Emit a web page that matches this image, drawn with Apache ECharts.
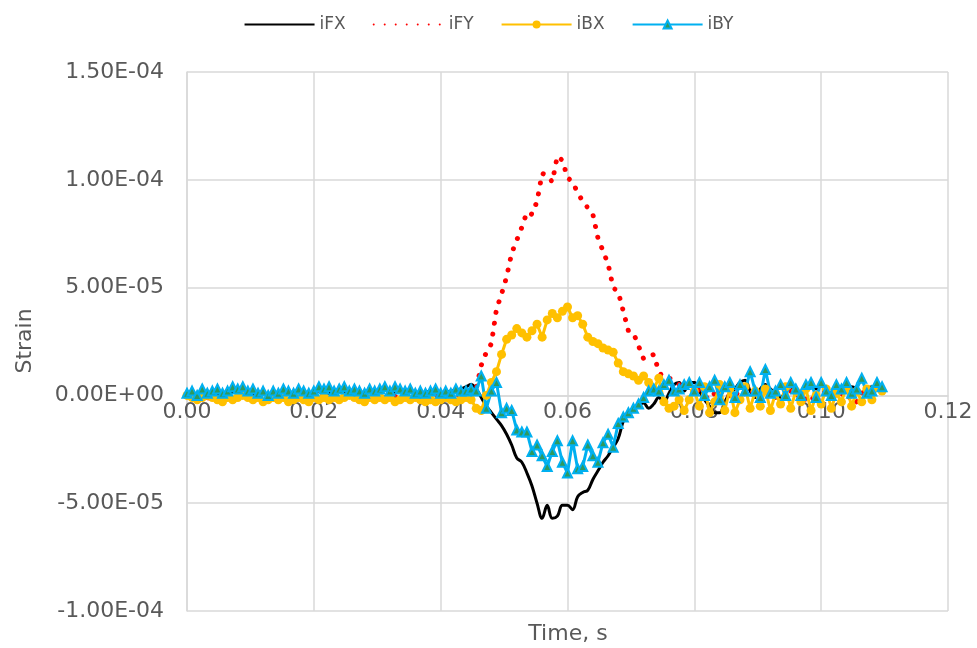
<!DOCTYPE html>
<html>
<head>
<meta charset="utf-8">
<script src="https://cdn.jsdelivr.net/npm/echarts@6/dist/echarts.min.js"></script>
<style>
html,body{margin:0;padding:0;background:#fff;}
#chart{width:977px;height:648px;}
</style>
</head>
<body>
<div id="chart"></div>
<script>
// Sample spacing of the recorded signals (milliseconds)
const timeStepMs = 0.8;
// Strain values in microstrain (x1e-6)
const iFX = [
  0,0.5,1,0.5,1,1.5,1,0.5,1,1.5,
  2,1.5,1,0.5,0,0.5,1,0.5,0,0.5,
  1,1.5,1,0.5,1,1.5,2,1.5,1,1.5,
  2,1.5,1,0.5,1,1.5,2,1.5,2,2.5,
  2,1.5,2,2.5,2,1.5,1,1.5,2,1.5,
  1,1.5,2,2.5,3,4,5,3,-1,-5,
  -8,-11,-14,-18,-23,-29,-31,-36,-42,-50,
  -57,-51,-57,-56,-51,-51,-53,-47,-45,-44,
  -39,-35,-31,-28,-24,-20,-12,-8,-6,-4.5,
  -3.5,-6,-4,-1,-3,1,5,6,2,6,
  6,2,-2,-5,-8,-8,-3,1,3,6,
  7,2,-1,3,5,3,1,-1,2,4,
  2,0,2,4,3,5,3,1,3,4,
  2,4,3,1,3,4,3,3
];
const iFY = [
  0,-0.5,-1,0,-1,-2,-1,0,-1,-0.5,
  0,-1,-0.5,0,-1,-2,-1,0,-0.5,-1,
  -2,-1,0,-0.5,-1,-1,0,-0.5,-1,-0.5,
  0,-1,-2,-1,0,-0.5,0,-1,-2,-1,
  0,-0.5,-1,-0.5,0,-1,-2,-1,-0.5,0,
  -1,-0.5,0,0,0,0.5,1,3,14,20,
  24,40,47,55,66,72,78,85,84,90,
  103,102,99,111,109,101,99,94,90,87,
  84,73,67,61,50,48,39,30,29,23,
  17,18,19,11,8,8,7,5,6,5,
  4,2,0,-2,1,3,-1,0,2,-1,
  1,3,0,-2,2,1,-1,-3,0,2,
  -1,1,-2,0,-4,1,2,-1,0,1,
  -2,0,-3,1,2,0,1,2
];
const iBX = [
  0,-1,-2,-1,0,-1,-2,-3,-1,-2,
  -1,0,-1,-2,-1,-3,-2,-1,-2,-1,
  -3,-2,-1,-2,-3,-1,-2,-1,-2,-1,
  -2,-1,0,-1,-2,-3,-1,-2,-1,-2,
  -1,-3,-2,-1,-2,-1,-2,-3,-2,-3,
  -2,-1,-2,-3,-2,-1,-2,-6,-7,0,
  6,11,19,26,28,31,29,27,30,33,
  27,35,38,36,39,41,36,37,33,27,
  25,24,22,21,20,15,11,10,9,7,
  9,6,3,8,-3,-6,-5,-2,-7,-2,
  2,-5,4,-8,-3,5,-7,3,-8,-2,
  4,-6,2,-5,3,-7,1,-4,4,-6,
  2,-3,3,-7,0,-4,3,-6,1,-3,
  4,-5,2,-3,3,-2,4,2
];
const iBY = [
  1,2,0,3,1,2,3,1,2,4,
  3,4,2,3,1,2,0,2,1,3,
  2,1,3,2,1,2,4,3,4,2,
  3,4,2,3,2,1,3,2,3,4,
  2,4,3,2,3,1,2,1,2,3,
  1,2,1,3,2,2,3,2,9,-6,
  2,6,-8,-6,-7,-16,-17,-17,-26,-23,
  -28,-33,-26,-21,-31,-36,-21,-34,-33,-23,
  -28,-31,-22,-18,-24,-13,-10,-8,-6,-4,
  -1,2,3,2,5,7,2,3,5,6,
  2,6,0,4,7,-2,4,6,-1,5,
  2,11,2,-1,12,1,2,5,0,6,
  3,0,5,6,-1,6,2,0,5,3,
  6,1,3,8,1,2,6,4
];
const seriesNames = ['iFX','iFY','iBX','iBY'];
// axis ranges (ms and microstrain)
const xRange = {min:0, max:120, step:20};
const yRange = {min:-100, max:150, step:50};

const FONT = 'DejaVu Sans';
const TXT = '#595959';
const GRID = '#d9d9d9';
const GRID_TOP = 72, GRID_BOTTOM = 37, CH = 648;

function pairs(arr){ return arr.map((v,i)=>[i*timeStepMs, v]); }
function sci(v){
  const s = (v*1e-6).toExponential(2);
  const parts = s.split('e');
  const sign = parts[1][0]==='-' ? '-' : '+';
  const d = parts[1].replace(/[+-]/,'').padStart(2,'0');
  return parts[0] + 'E' + sign + d;
}
// place the x axis on the y=0 line
const plotH = CH - GRID_TOP - GRID_BOTTOM;
const zeroOffset = -plotH * (0 - yRange.min) / (yRange.max - yRange.min);

const chart = echarts.init(document.getElementById('chart'));
chart.setOption({
  animation:false,
  backgroundColor:'#fff',
  grid:{left:187,right:29,top:GRID_TOP,bottom:GRID_BOTTOM,containLabel:false},
  legend:{
    top:11,left:'center',
    itemWidth:70,itemHeight:10,itemGap:27,
    textStyle:{fontFamily:FONT,fontSize:17,color:TXT},
    data:[
      {name:'iFX',itemStyle:{opacity:0}},
      {name:'iFY',itemStyle:{opacity:0}},
      {name:'iBX'},
      {name:'iBY'}
    ]
  },
  xAxis:{
    type:'value',min:xRange.min,max:xRange.max,interval:xRange.step,
    position:'bottom',offset:zeroOffset,
    axisLine:{onZero:false,lineStyle:{color:GRID,width:1.5}},
    axisTick:{show:false},
    splitLine:{show:true,lineStyle:{color:GRID,width:1.5}},
    axisLabel:{fontFamily:FONT,fontSize:22,color:TXT,margin:6,
      formatter:v=>(v/1000).toFixed(2)}
  },
  yAxis:{
    type:'value',min:yRange.min,max:yRange.max,interval:yRange.step,
    axisLine:{show:true,onZero:false,lineStyle:{color:GRID,width:1.5}},
    axisTick:{show:false},
    splitLine:{show:true,lineStyle:{color:GRID,width:1.5}},
    axisLabel:{fontFamily:FONT,fontSize:22,color:TXT,margin:23,formatter:sci}
  },
  graphic:[
    {type:'text',x:568,y:634,style:{text:'Time, s',font:'22px "DejaVu Sans"',fill:TXT,textAlign:'center',textVerticalAlign:'middle'}},
    {type:'text',x:25,y:341,rotation:Math.PI/2,
      style:{text:'Strain',font:'22px "DejaVu Sans"',fill:TXT,textAlign:'center',textVerticalAlign:'middle'}}
  ],
  series:[
    {name:'iFX',type:'line',data:pairs(iFX),symbol:'none',smooth:0.4,
      lineStyle:{color:'#000000',width:3},itemStyle:{color:'#000000'}},
    {name:'iFY',type:'line',data:pairs(iFY),symbol:'none',
      lineStyle:{color:'#FF0000',width:5,type:[0.01,11],cap:'round'},itemStyle:{color:'#FF0000'}},
    {name:'iBX',type:'line',data:pairs(iBX),symbol:'circle',symbolSize:9,showSymbol:true,
      lineStyle:{color:'#FFC000',width:3},itemStyle:{color:'#FFC000'}},
    {name:'iBY',type:'line',data:pairs(iBY),symbol:'triangle',symbolSize:9,showSymbol:true,
      lineStyle:{color:'#00B0F0',width:3},itemStyle:{color:'#2E9A5E',borderColor:'#00B0F0',borderWidth:2}}
  ]
});
</script>
</body>
</html>
